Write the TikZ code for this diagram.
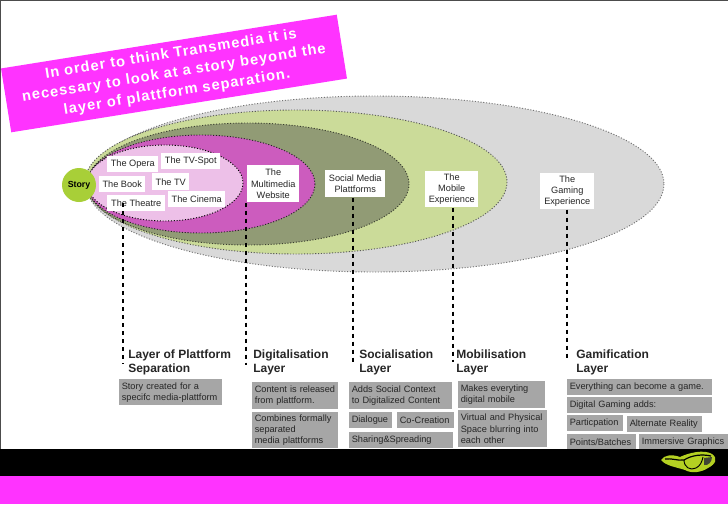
\documentclass[tikz,border=0pt]{standalone}
\usepackage{fontspec}
\setmainfont{Liberation Sans}
\usetikzlibrary{arrows.meta,positioning}
\definecolor{hotpink}{HTML}{FF33FF}
\definecolor{outergray}{HTML}{D9D9D9}
\definecolor{palegreen}{HTML}{CBDB99}
\definecolor{olive}{HTML}{919B75}
\definecolor{orchid}{HTML}{CC5CBE}
\definecolor{lilac}{HTML}{EDC0E8}
\definecolor{storygreen}{HTML}{A8CF38}
\definecolor{lime}{HTML}{B4D022}
\definecolor{taggray}{HTML}{A6A6A6}
\definecolor{inktext}{HTML}{262626}
\begin{document}
\begin{tikzpicture}[
  x=0.75pt, y=-0.75pt,
  font=\fontsize{6.9pt}{8.4pt}\selectfont,
  orbit/.style={draw=#1, dash pattern=on 0.8pt off 1.3pt, line width=0.7pt},
  medium/.style={fill=white, text=inktext, inner sep=0pt, align=center, anchor=north west},
  tag/.style={fill=taggray, text=inktext, inner sep=0pt, inner xsep=1.9pt, align=left, anchor=north west},
  size/.style 2 args={minimum width=#1*0.75pt, minimum height=#2*0.75pt, text width=#1*0.75pt-3.8pt},
  bsize/.style 2 args={minimum width=#1*0.75pt, minimum height=#2*0.75pt},
  layertitle/.style={font=\fontsize{9pt}{10.4pt}\selectfont\bfseries, text=inktext, inner sep=0pt, align=left, anchor=north west},
  drop/.style={line width=1.7pt, dash pattern=on 3pt off 3pt, draw=black}
]
\useasboundingbox (0,0) rectangle (728,504);
\fill[white] (0,0) rectangle (728,504);
\draw[black!70, line width=0.8pt] (0,504) -- (0,0) -- (728,0);

\fill[hotpink] (0,476) rectangle (728,504);
\fill[black] (0,449) rectangle (728,476);

\node[fill=hotpink, rotate=9.1, minimum width=255pt, minimum height=48.5pt, inner sep=0pt, align=center, text=white,
  font=\fontsize{11pt}{14.4pt}\selectfont\bfseries\addfontfeature{LetterSpace=7}] (banner) at (174,73.5)
  {In order to think Transmedia it is\\necessary to look at a story beyond the\\layer of plattform separation.};

\filldraw[orbit=black!55, fill=outergray] (375,184) ellipse [x radius=289, y radius=88];
\filldraw[orbit=black!65, fill=palegreen] (296,182) ellipse [x radius=211, y radius=72];
\filldraw[orbit=black!60!olive, fill=olive] (248,184) ellipse [x radius=161, y radius=61];
\filldraw[orbit=black!85, fill=orchid] (201,184) ellipse [x radius=114, y radius=49];
\filldraw[orbit=black, fill=lilac] (165,183) ellipse [x radius=78, y radius=38];

\node[circle, fill=storygreen, minimum size=25.5pt, inner sep=0pt, font=\fontsize{6.6pt}{8pt}\selectfont\bfseries] (story) at (79,185) {Story};

\node[medium, bsize={51}{16}] (opera) at (107,156) {The Opera};
\node[medium, bsize={59}{16}] (tvspot) at (161,153) {The TV-Spot};
\node[medium, bsize={46}{16}] (book) at (99,176) {The Book};
\node[medium, bsize={37}{17}] (tv) at (152,173) {The TV};
\node[medium, bsize={58}{16}] (theatre) at (107,195) {The Theatre};
\node[medium, bsize={57}{16}] (cinema) at (168,191) {The Cinema};
\node[medium, bsize={52}{37}] (multimedia) at (247,165) {The\\Multimedia\\Website};
\node[medium, bsize={60}{27}] (social) at (325,170) {Social Media\\Plattforms};
\node[medium, bsize={53}{36}] (mobile) at (425,171) {The\\Mobile\\Experience};
\node[medium, bsize={54}{36}] (gaming) at (540,173) {The\\Gaming\\Experience};

\node[layertitle] (platformtitle) at (128,349.5) {Layer of Plattform\\Separation};
\node[layertitle] (digitaltitle) at (253,349.5) {Digitalisation\\Layer};
\node[layertitle] (socialtitle) at (359,349.5) {Socialisation\\Layer};
\node[layertitle] (mobiletitle) at (456,349.5) {Mobilisation\\Layer};
\node[layertitle] (gamingtitle) at (576,349.5) {Gamification\\Layer};

\coordinate (platformend) at (123,364);
\coordinate (digitalend) at (246,365);
\coordinate (socialend) at (353,363);
\coordinate (mobileend) at (453,362);
\coordinate (gamingend) at (567,360);

\draw[drop] (platformend |- theatre.center) -- (platformend);
\draw[drop] (digitalend |- multimedia.south) -- (digitalend);
\draw[drop] (socialend |- social.south) -- (socialend);
\draw[drop] (mobileend |- mobile.south) -- (mobileend);
\draw[drop] (gamingend |- gaming.south) -- (gamingend);

\node[tag, size={103}{26}] (created) at (119,379) {Story created for a\\specifc media-plattform};

\node[tag, size={86}{27}] (released) at (252,382) {Content is released\\from plattform.};
\node[tag, size={86}{36}] (combines) at (252,412) {Combines formally\\separated\\media plattforms};

\node[tag, size={103}{27}] (adds) at (349,382) {Adds Social Context\\to Digitalized Content};
\node[tag, size={43}{16}] (dialogue) at (349,412) {Dialogue};
\node[tag, size={57}{16}] (cocreation) at (397,412) {Co-Creation};
\node[tag, size={104}{16}] (sharing) at (349,432) {Sharing\&Spreading};

\node[tag, size={87}{27}] (makes) at (458,381) {Makes everyting\\digital mobile};
\node[tag, size={89}{37}] (virtual) at (458,410) {Virtual and Physical\\Space blurring into\\each other};

\node[tag, size={145}{16}] (everything) at (567,379) {Everything can become a game.};
\node[tag, size={145}{16}] (adds2) at (567,397) {Digital Gaming adds:};
\node[tag, size={56}{16}] (particpation) at (567,415) {Particpation};
\node[tag, size={75}{16}] (alternate) at (627,416) {Alternate Reality};
\node[tag, size={69}{15}] (points) at (567,434) {Points/Batches};
\node[tag, size={89}{15}] (immersive) at (639,434) {Immersive Graphics};

\fill[lime] (661,460) .. controls (664,455) and (672,454) .. (680,457)
  .. controls (688,453) and (704,449) .. (712,454)
  .. controls (718,458) and (716,464) .. (708,468)
  .. controls (702,472) and (692,474) .. (685,470)
  .. controls (676,467) and (666,466) .. (661,460) -- cycle;
\draw[black, line width=0.9pt] (665,459) .. controls (672,458) and (678,461) .. (684,460)
  .. controls (692,455) and (702,454) .. (711,456);
\draw[black, line width=0.7pt] (684,460) .. controls (684,467) and (690,471) .. (696,468)
  .. controls (700,466) and (702,462) .. (703,457);
\fill[black!55!olive] (704,458) -- (712,457) .. controls (712,462) and (708,466) .. (704,465) -- cycle;
\end{tikzpicture}
\end{document}
